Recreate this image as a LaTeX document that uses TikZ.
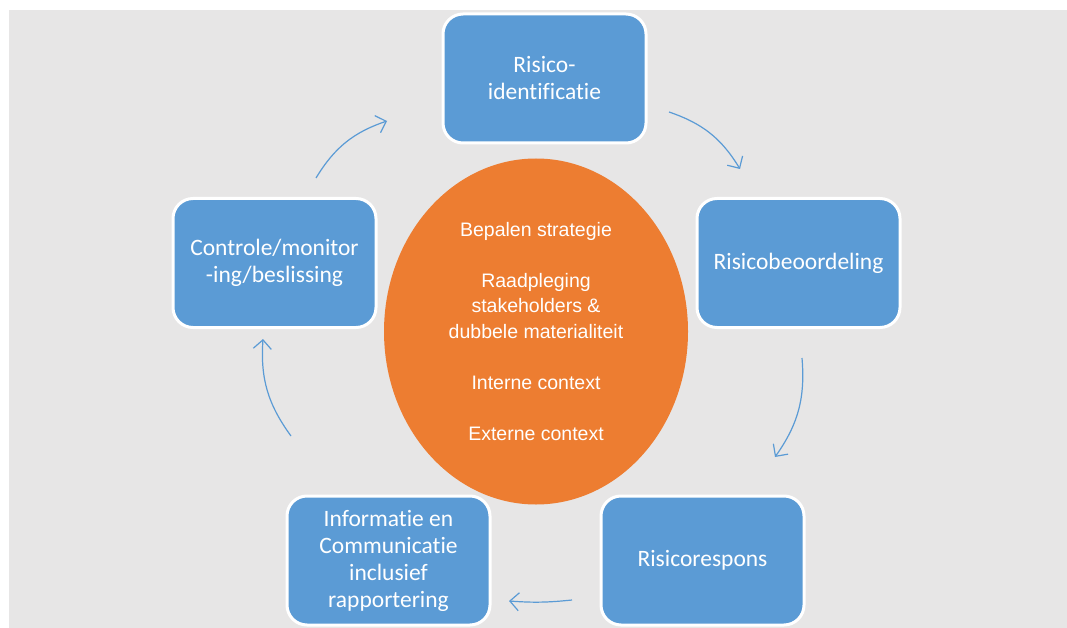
\documentclass[tikz,border=0pt]{standalone}
\usepackage{fontspec}
\setmainfont{Carlito}[Ligatures=NoCommon]
\newfontfamily\arialfont{Liberation Sans}
\usetikzlibrary{arrows.meta,shapes.geometric}

\definecolor{stageblue}{HTML}{5B9BD5}
\definecolor{coreorange}{HTML}{ED7D31}
\definecolor{bggrey}{HTML}{E7E6E6}

\tikzset{
  stage/.style={draw=white, line width=3pt, fill=stageblue, rounded corners=20pt,
    minimum width=203pt, minimum height=129pt, text=white, align=center,
    font=\fontsize{23.5}{27}\selectfont},
  core/.style={ellipse, fill=coreorange, inner sep=0pt, minimum width=304pt,
    minimum height=346pt, text=white, align=center,
    font=\arialfont\fontsize{19.5}{25.5}\selectfont},
  flow/.style={draw=stageblue, line width=1.2pt,
    -{Straight Barb[length=9pt,width=18pt]}, bend left=20}
}

\begin{document}
\begin{tikzpicture}[x=1pt,y=-1pt]
    \useasboundingbox (0,0) rectangle (1067,628);
    \fill[bggrey] (9,10) rectangle (1067,628);

    % Centre
    \node[core] (centre) at (536,331.5) {Bepalen strategie\\[25.5pt]
        Raadpleging\\ stakeholders \&\\ dubbele materialiteit\\[25.5pt]
        Interne context\\[25.5pt]
        Externe context};

    % Stages
    \node[stage] (ident) at (544.5,78.5) {Risico-\\identificatie};
    \node[stage] (beoord) at (798.5,263) {Risicobeoordeling};
    \node[stage] (respons) at (702.5,560.5) {Risicorespons};
    \node[stage] (info) at (388.5,560.5) {Informatie en\\Communicatie\\inclusief\\rapportering};
    \node[stage] (contr) at (274.5,263) {Controle/monitor\\-ing/beslissing};

    % Arrows
    \coordinate (s1) at (316,178);  \coordinate (e1) at (387,121);
    \coordinate (s2) at (669,112);  \coordinate (e2) at (740,169);
    \coordinate (s3) at (802,358);  \coordinate (e3) at (775,457);
    \coordinate (s4) at (572,600);  \coordinate (e4) at (509,601);
    \coordinate (s5) at (291,436);  \coordinate (e5) at (263,339);

    \draw[flow] (s1) to (e1);
    \draw[flow] (s2) to (e2);
    \draw[flow] (s3) to (e3);
    \draw[flow, bend left=5] (s4) to (e4);
    \draw[flow] (s5) to (e5);
\end{tikzpicture}
\end{document}
